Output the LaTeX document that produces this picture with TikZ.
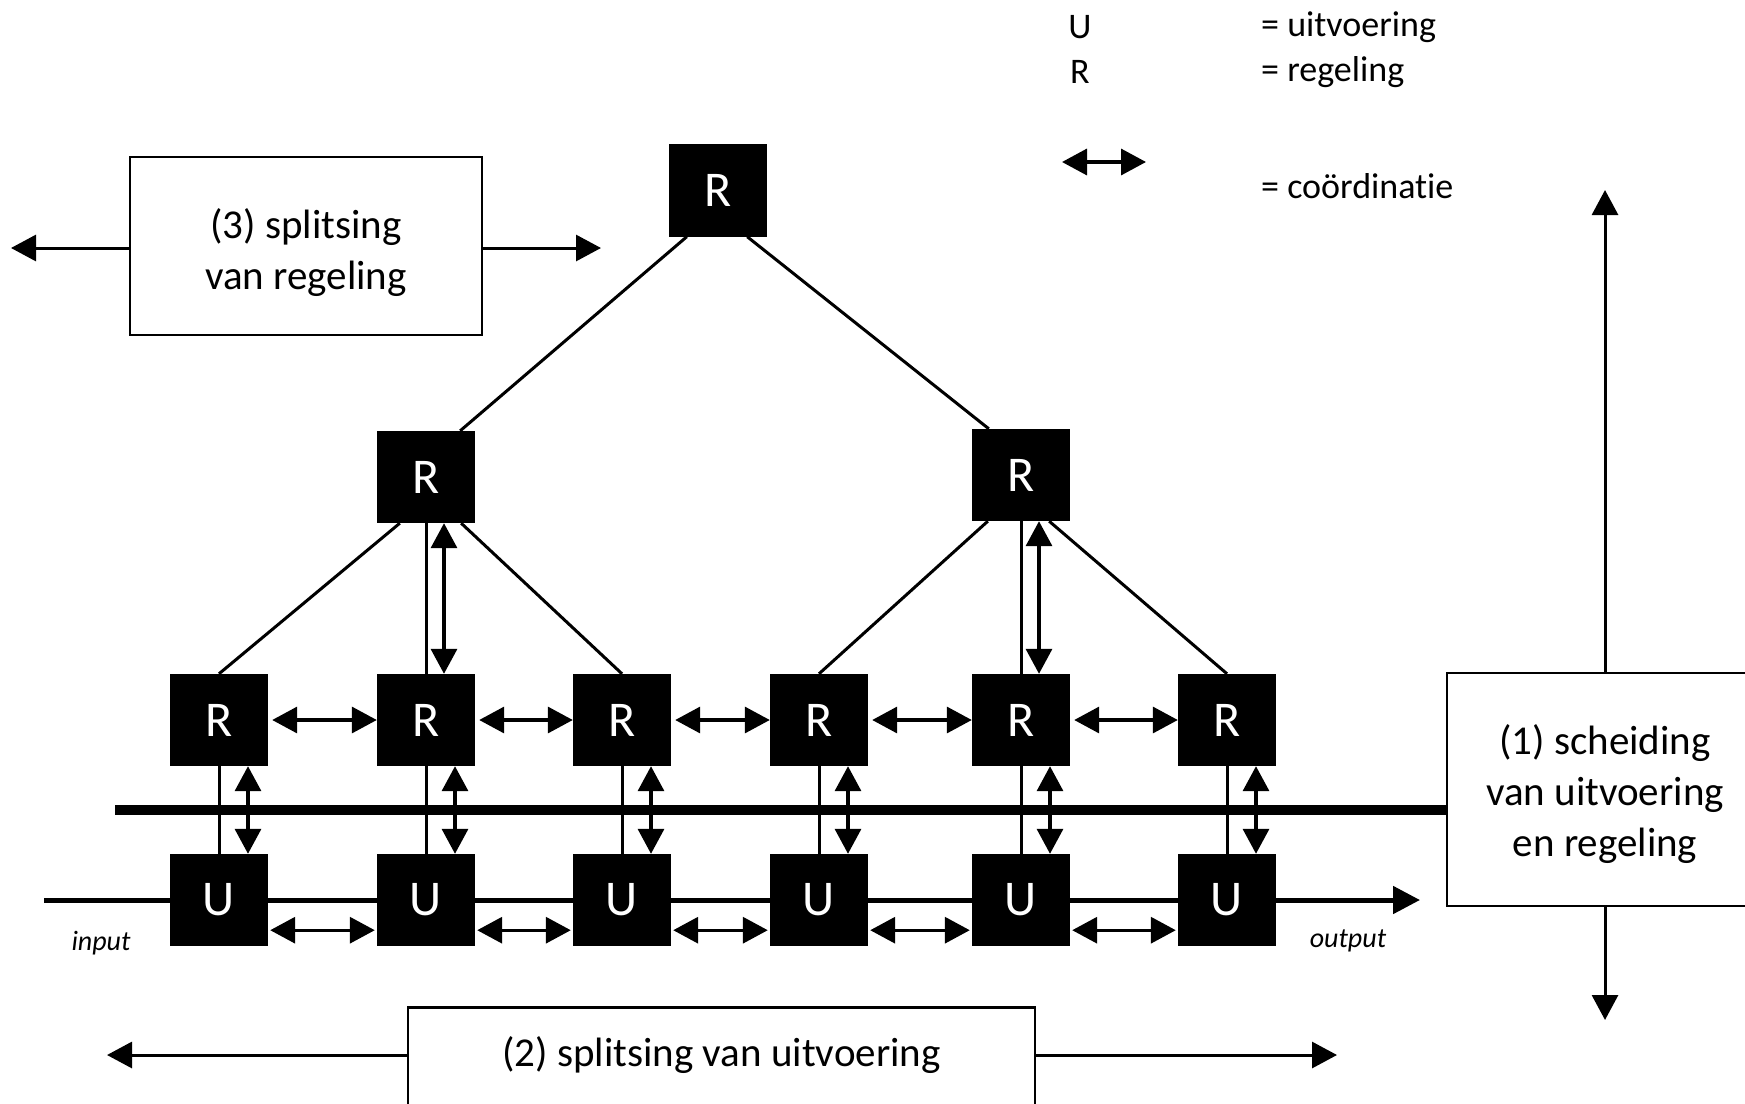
\documentclass[tikz,border=0pt]{standalone}
\usepackage{fontspec}
\setmainfont{Carlito}[Ligatures=NoCommon]
\usetikzlibrary{arrows.meta,calc}
\tikzset{
  blk/.style={fill=black, draw=none, minimum width=98pt, minimum height=92pt, inner sep=0pt, text=white, font=\fontsize{50}{50}\selectfont},
  txtbox/.style={draw=black, line width=2.7pt, fill=white, inner sep=0pt},
  bxtext/.style={inner sep=0pt, align=center, font=\fontsize{41}{51}\selectfont},
  lgtext/.style={inner sep=0pt, font=\fontsize{36}{40}\selectfont},
  iotext/.style={inner sep=0pt, font=\fontsize{28}{30}\selectfont\itshape},
  ln/.style={line width=3pt},
  coord/.style={line width=3.4pt, {Triangle[length=25pt,width=26pt]}-{Triangle[length=25pt,width=26pt]}},
  onearr/.style={line width=3pt, -{Triangle[length=25pt,width=26pt]}},
}
\begin{document}
\begin{tikzpicture}[x=1pt,y=-1pt]
\useasboundingbox (0,0) rectangle (1745,1103);
\clip (0,0) rectangle (1745,1103);

% legend
\node[lgtext] (lgU) at (1080,27) {U};
\node[lgtext] (lgR) at (1080,72) {R};
\node[lgtext, anchor=west] (lgUt) at (1261,27) {= uitvoering};
\node[lgtext, anchor=west] (lgRt) at (1261,72) {= regeling};
\node[lgtext, anchor=west] (lgCt) at (1261,186) {= coördinatie};
\coordinate (la1) at (1062,162);
\coordinate (la2) at (1146,162);
\draw[coord] (la1) -- (la2);

% R/U nodes
\node[blk, minimum height=93pt] (Rt) at (718,190) {R};
\node[blk] (Ra) at (426,477) {R};
\node[blk] (Rb) at (1021,475) {R};
\foreach \i/\x in {1/219,2/426,3/622,4/819,5/1021,6/1227}{
  \node[blk] (R\i) at (\x,720) {R};
  \node[blk] (U\i) at (\x,900) {U};
}

% tree lines
\draw[ln] ($(Rt.south west)+(18,0)$) -- ($(Ra.north east)+(-15,0)$);
\draw[ln] ($(Rt.south east)+(-20,0)$) -- ($(Rb.north west)+(17,0)$);
\draw[ln] ($(Ra.south west)+(23,0)$) -- (R1.north);
\draw[ln] (Ra.south) -- (R2.north);
\draw[ln] ($(Ra.south east)+(-14,0)$) -- (R3.north);
\draw[coord] ($(Ra.south)+(18,0)$) -- ($(R2.north)+(18,0)$);
\draw[ln] ($(Rb.south west)+(16,0)$) -- (R4.north);
\draw[ln] (Rb.south) -- (R5.north);
\draw[ln] ($(Rb.south east)+(-21,0)$) -- (R6.north);
\draw[coord] ($(Rb.south)+(18,0)$) -- ($(R5.north)+(18,0)$);

% separation line and box 1
\coordinate (tl) at (115,810);
\node[txtbox, minimum width=316pt, minimum height=233pt] (B1) at (1605,789.5) {};
\node[bxtext] (B1t) at ($(B1.center)+(0,5)$) {(1) scheiding\\van uitvoering\\en regeling};
\draw[line width=10pt] (tl) -- (tl -| B1.west);

% R-U links
\foreach \i in {1,...,6}{
  \draw[ln] (R\i.south) -- (U\i.north);
  \draw[coord] ($(R\i.south)+(29,0)$) -- ($(U\i.north)+(29,0)$);
}
% horizontal coordination
\foreach \i/\j in {1/2,2/3,3/4,4/5,5/6}{
  \draw[coord] ($(R\i.east)+(4,0)$) -- (R\j.west);
  \draw[coord] ($(U\i.south east)+(2,-16)$) -- ($(U\j.south west)+(-2,-16)$);
}

% input / output flow
\coordinate (inp) at (44,900);
\coordinate (outp) at (1420,900);
\draw[line width=5pt] (inp) -- (U1);
\foreach \i/\j in {1/2,2/3,3/4,4/5,5/6}{
  \draw[line width=5pt] (U\i) -- (U\j);
}
\draw[line width=5pt, -{Triangle[length=27pt,width=27pt]}] (U6) -- (outp);
\node[iotext] (inlab) at (101,943) {input};
\node[iotext] (outlab) at (1348,941) {output};

% box 1 arrows
\coordinate (up1) at (1605,190);
\coordinate (dn1) at (1605,1020);
\draw[onearr] (B1.north) -- (up1);
\draw[onearr] (B1.south) -- (dn1);

% box 3
\node[txtbox, minimum width=352pt, minimum height=178pt] (B3) at (306,246) {};
\node[bxtext] (B3t) at ($(B3.center)+(0,7)$) {(3) splitsing\\van regeling};
\coordinate (l3) at (11,248);
\coordinate (r3) at (601,248);
\draw[onearr] (l3 -| B3.west) -- (l3);
\draw[onearr] (r3 -| B3.east) -- (r3);

% box 2
\node[txtbox, minimum width=627pt, minimum height=130pt, anchor=north] (B2) at (721.5,1006) {};
\node[bxtext] (B2t) at (721.5,1055) {(2) splitsing van uitvoering};
\coordinate (l2) at (107,1055);
\coordinate (r2) at (1337,1055);
\draw[onearr] (l2 -| B2.west) -- (l2);
\draw[onearr] (r2 -| B2.east) -- (r2);
\end{tikzpicture}
\end{document}
